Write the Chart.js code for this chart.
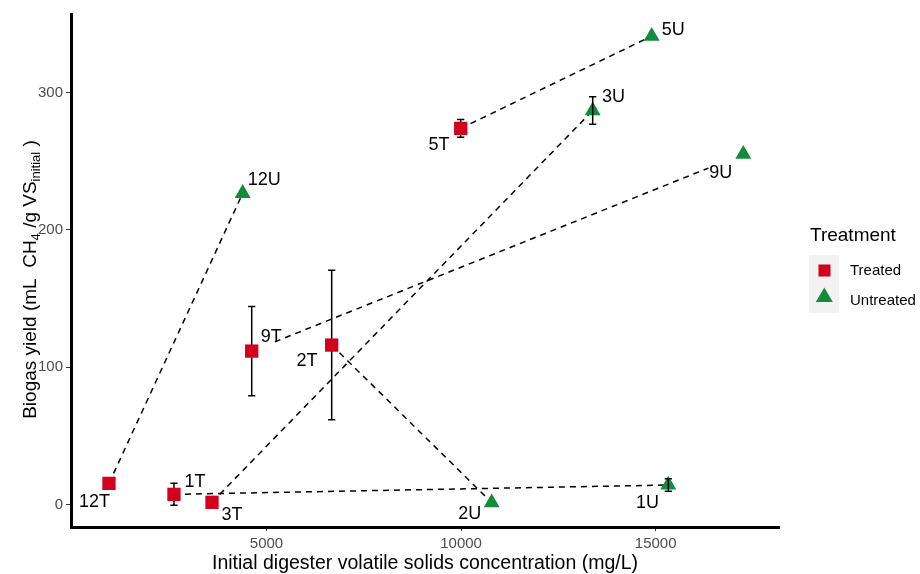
<!DOCTYPE html>
<html>
<head>
<meta charset="utf-8">
<script src="https://cdn.jsdelivr.net/npm/chart.js@4/dist/chart.umd.min.js"></script>
<style>
  html, body { margin: 0; padding: 0; background: #ffffff; }
  canvas { display: block; }
</style>
</head>
<body>
<canvas id="chart" width="920" height="574"></canvas>
<script>
// Digester pairs, treated and untreated, listed in the same pair order
const pairIds = ['12', '1', '3', '9', '2', '5'];

const treatedLabels = ['12T', '1T', '3T', '9T', '2T', '5T'];
const treatedVS = [953, 2623, 3600, 4620, 6675, 9990];          // mg/L
const treatedYield = [15.3, 7.3, 1.5, 111.7, 116.1, 274];        // mL CH4 / g VS
const treatedErr = [0, 8, 0, 32.5, 54.5, 6.5];

const untreatedLabels = ['12U', '1U', '3U', '9U', '2U', '5U'];
const untreatedVS = [4388, 15324, 13381, 17251, 10786, 14897];
const untreatedYield = [226.7, 14.1, 287, 255.3, 1.3, 341.3];
const untreatedErr = [0, 4.5, 10, 0, 0, 0];

const xTicks = [5000, 10000, 15000];
const yTicks = [0, 100, 200, 300];

// ---- styling -------------------------------------------------------------
const RED = '#D1001C';
const GREEN = '#128C3A';
const FONT = '"Liberation Sans", Arial, sans-serif';

// trimmed ends of the connecting segments (fraction of segment length)
const segmentTrimStart = [0, 0, 0, 0.047, 0, 0];
const segmentTrimEnd = [0, 0, 0, 0.071, 0.04, 0];

// label offsets from the marker centre, in pixels
const treatedLabelOffset = [[-14.5, 18.4], [21, -12.6], [20, 12.7], [19.5, -13.7], [-24.7, 15.7], [-21.7, 16.7]];
const untreatedLabelOffset = [[21.5, -13.3], [-20.8, 18.3], [20.8, -13.2], [-22.5, 18.7], [-22, 11], [21.6, -6]];

// ---- datasets ------------------------------------------------------------
const pointsOf = (xs, ys) => xs.map((x, i) => ({ x: x, y: ys[i] }));

const segmentDatasets = pairIds.map((id, i) => {
  const x0 = treatedVS[i], y0 = treatedYield[i];
  const x1 = untreatedVS[i], y1 = untreatedYield[i];
  const a = segmentTrimStart[i], b = 1 - segmentTrimEnd[i];
  return {
    label: 'pair ' + id,
    data: [
      { x: x0 + (x1 - x0) * a, y: y0 + (y1 - y0) * a },
      { x: x0 + (x1 - x0) * b, y: y0 + (y1 - y0) * b }
    ],
    showLine: true,
    borderColor: '#000000',
    borderWidth: 1.5,
    borderDash: [6, 5],
    pointRadius: 0,
    order: 10
  };
});

const datasets = [
  {
    label: 'Treated',
    data: pointsOf(treatedVS, treatedYield),
    pointStyle: 'rect',
    pointRadius: 9.4,
    backgroundColor: RED,
    borderWidth: 0,
    order: 1
  },
  {
    label: 'Untreated',
    data: pointsOf(untreatedVS, untreatedYield),
    pointStyle: 'triangle',
    pointRadius: 9.2,
    backgroundColor: GREEN,
    borderWidth: 0,
    order: 0
  }
].concat(segmentDatasets);

// ---- drawing helpers -----------------------------------------------------
function drawErrorBars(chart, xs, ys, errs) {
  const ctx = chart.ctx;
  const sx = chart.scales.x, sy = chart.scales.y;
  ctx.save();
  ctx.strokeStyle = '#000000';
  ctx.lineWidth = 1.5;
  xs.forEach((x, i) => {
    if (!errs[i]) return;
    const px = sx.getPixelForValue(x);
    const top = sy.getPixelForValue(ys[i] + errs[i]);
    const bot = sy.getPixelForValue(ys[i] - errs[i]);
    ctx.beginPath();
    ctx.moveTo(px, top); ctx.lineTo(px, bot);
    ctx.moveTo(px - 3.6, top); ctx.lineTo(px + 3.6, top);
    ctx.moveTo(px - 3.6, bot); ctx.lineTo(px + 3.6, bot);
    ctx.stroke();
  });
  ctx.restore();
}

function drawPointLabels(chart, xs, ys, labels, offsets) {
  const ctx = chart.ctx;
  const sx = chart.scales.x, sy = chart.scales.y;
  ctx.save();
  ctx.font = '18px ' + FONT;
  ctx.fillStyle = '#000000';
  ctx.textAlign = 'center';
  ctx.textBaseline = 'middle';
  labels.forEach((t, i) => {
    const px = sx.getPixelForValue(xs[i]) + offsets[i][0];
    const py = sy.getPixelForValue(ys[i]) + offsets[i][1];
    ctx.fillText(t, px, py);
  });
  ctx.restore();
}

const yTitleParts = [
  ['Biogas yield (mL  CH', false],
  ['4', true],
  [' /g VS', false],
  ['initial', true],
  [' )', false]
];

const overlayPlugin = {
  id: 'overlay',
  beforeDatasetDraw(chart, args) {
    if (args.index === 0) drawErrorBars(chart, treatedVS, treatedYield, treatedErr);
  },
  afterDatasetDraw(chart, args) {
    if (args.index === 1) drawErrorBars(chart, untreatedVS, untreatedYield, untreatedErr);
  },
  afterDatasetsDraw(chart) {
    drawPointLabels(chart, treatedVS, treatedYield, treatedLabels, treatedLabelOffset);
    drawPointLabels(chart, untreatedVS, untreatedYield, untreatedLabels, untreatedLabelOffset);
  },
  afterDraw(chart) {
    const ctx = chart.ctx;
    const area = chart.chartArea;
    ctx.save();

    // x axis title
    ctx.fillStyle = '#000000';
    ctx.font = '19.5px ' + FONT;
    ctx.textAlign = 'center';
    ctx.textBaseline = 'middle';
    ctx.fillText('Initial digester volatile solids concentration (mg/L)', (area.left + area.right) / 2, 564);

    // y axis title with subscripts
    ctx.save();
    ctx.translate(31, (area.top + area.bottom) / 2 + 9);
    ctx.rotate(-Math.PI / 2);
    ctx.textAlign = 'left';
    ctx.textBaseline = 'middle';
    const fontFor = (sub) => (sub ? '13px ' : '19px ') + FONT;
    let total = 0;
    yTitleParts.forEach(([t, sub]) => { ctx.font = fontFor(sub); total += ctx.measureText(t).width; });
    let cx = -total / 2;
    yTitleParts.forEach(([t, sub]) => {
      ctx.font = fontFor(sub);
      ctx.fillText(t, cx, sub ? 5.5 : 0);
      cx += ctx.measureText(t).width;
    });
    ctx.restore();

    // legend
    ctx.textAlign = 'left';
    ctx.textBaseline = 'middle';
    ctx.font = '19px ' + FONT;
    ctx.fillStyle = '#000000';
    ctx.fillText('Treatment', 810, 236);

    ctx.fillStyle = '#F2F2F2';
    ctx.fillRect(809, 255, 30, 58);

    ctx.fillStyle = RED;
    ctx.fillRect(818.5, 264.5, 12, 12);

    ctx.fillStyle = GREEN;
    ctx.beginPath();
    ctx.moveTo(824.3, 287.5);
    ctx.lineTo(832.8, 302);
    ctx.lineTo(815.8, 302);
    ctx.closePath();
    ctx.fill();

    ctx.fillStyle = '#000000';
    ctx.font = '15px ' + FONT;
    ctx.fillText('Treated', 850, 271);
    ctx.fillText('Untreated', 850, 300.5);

    ctx.restore();
  }
};

// ---- chart ---------------------------------------------------------------
new Chart(document.getElementById('chart'), {
  type: 'scatter',
  data: { datasets: datasets },
  plugins: [overlayPlugin],
  options: {
    responsive: false,
    animation: false,
    events: [],
    layout: { padding: { top: 14, right: 141, left: 0, bottom: 0 } },
    plugins: {
      legend: { display: false },
      tooltip: { enabled: false }
    },
    scales: {
      x: {
        type: 'linear',
        min: -23,
        max: 18168,
        afterBuildTicks: (scale) => { scale.ticks = xTicks.map(v => ({ value: v })); },
        afterFit: (scale) => { scale.height = 47; },
        grid: { display: true, drawOnChartArea: false, drawTicks: true, tickLength: 4, color: '#333333', lineWidth: 1 },
        border: { display: true, color: '#000000', width: 3 },
        ticks: {
          color: '#4D4D4D',
          font: { family: FONT, size: 15 },
          padding: 4,
          maxRotation: 0,
          callback: (v) => String(v)
        }
      },
      y: {
        type: 'linear',
        min: -16.5,
        max: 357.4,
        afterBuildTicks: (scale) => { scale.ticks = yTicks.map(v => ({ value: v })); },
        afterFit: (scale) => { scale.width = 71; },
        grid: { display: true, drawOnChartArea: false, drawTicks: true, tickLength: 5, color: '#333333', lineWidth: 1 },
        border: { display: true, color: '#000000', width: 3 },
        ticks: {
          color: '#4D4D4D',
          font: { family: FONT, size: 15 },
          padding: 3,
          callback: (v) => String(v)
        }
      }
    }
  }
});
</script>
</body>
</html>
